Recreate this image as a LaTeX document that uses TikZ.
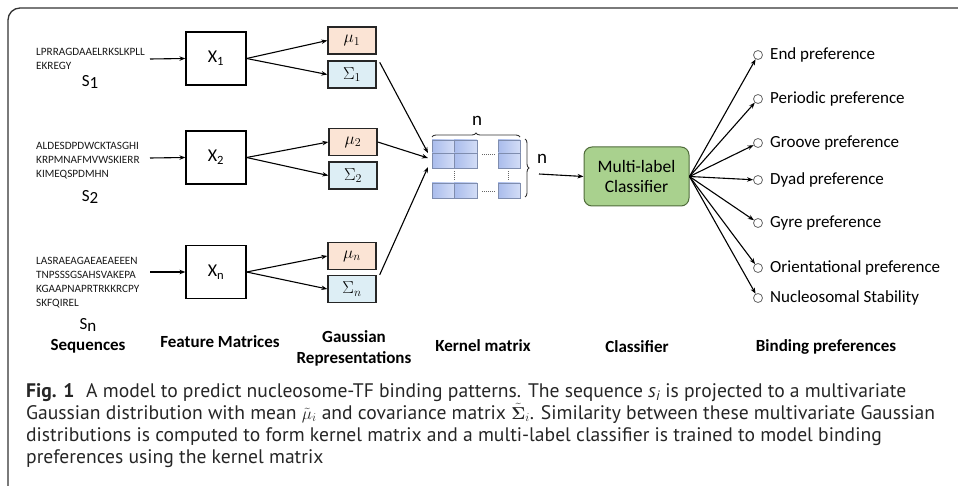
\documentclass[tikz,border=0pt]{standalone}
\usepackage{amsmath}
\usepackage{fontspec}
\setmainfont{Carlito}
\newfontfamily\capfont{PT Sans}
\usetikzlibrary{arrows.meta,decorations.pathreplacing,calc}
\definecolor{mufill}{HTML}{FBE4D5}
\definecolor{sigfill}{HTML}{DDEEF5}
\definecolor{clsfill}{HTML}{A9D18E}
\definecolor{clsdraw}{HTML}{4F6B3A}
\definecolor{cellL}{HTML}{A9BCEC}
\definecolor{cellR}{HTML}{D3DDF6}
\definecolor{celldraw}{HTML}{7F8DAE}
\definecolor{framec}{HTML}{333333}
\begin{document}
\begin{tikzpicture}[x=1pt,y=-1pt,
  arr/.style={-{Stealth[length=6pt,width=4.5pt]}, line width=1.1pt},
  xbox/.style={draw, line width=1.2pt, minimum width=60pt, minimum height=53pt, inner sep=0, font=\fontsize{18}{18}\selectfont},
  gbox/.style={draw=black!85, line width=1.4pt, minimum width=48pt, minimum height=27pt, inner sep=0, font=\fontsize{17}{17}\selectfont},
  mubox/.style={gbox, fill=mufill},
  sigbox/.style={gbox, fill=sigfill},
  seqtxt/.style={font=\fontsize{11.2}{14}\selectfont, text=black!90, align=left, anchor=north west, inner sep=0},
  slab/.style={font=\fontsize{17}{17}\selectfont, inner sep=0},
  blab/.style={font=\bfseries\fontsize{17}{21}\selectfont, align=center, inner sep=0},
  plab/.style={font=\fontsize{17}{17}\selectfont, anchor=west, inner sep=0},
  circ/.style={circle, draw=black!60, fill=white, minimum size=9pt, inner sep=0, line width=0.8pt},
  cell/.style={left color=cellL, right color=cellR, draw=celldraw, line width=0.7pt},
  capl/.style={font=\capfont\fontsize{19.6}{22}\selectfont, text=black!85, anchor=base west, inner sep=0}
]
\useasboundingbox (0,0) rectangle (958,486);
% frame
\draw[framec, line width=1.3pt, rounded corners=12pt] (958,8) -- (8,8) -- (8,486);

% sequences
\node[seqtxt] (t1) at (36,48) {LPRRAGDAAELRKSLKPLL\\EKREGY};
\node[slab] (s1) at (90,82) {S\raisebox{-2pt}{1}};
\node[seqtxt] (t2) at (36,142) {ALDESDPDWCKTASGHI\\KRPMNAFMVWSKIERR\\KIMEQSPDMHN};
\node[slab] (s2) at (90,197) {S\raisebox{-2pt}{2}};
\node[seqtxt] (t3) at (36,257) {LASRAEAGAEAEAEEEN\\TNPSSSGSAHSVAKEPA\\KGAAPNAPRTRKKRCPY\\SKFQIREL};
\node[slab] (s3) at (88,325) {S\raisebox{-2pt}{n}};

% feature matrices
\node[xbox] (x1) at (216,58.5) {X\textsubscript{1}};
\node[xbox] (x2) at (216,157.5) {X\textsubscript{2}};
\node[xbox] (x3) at (216,272) {X\textsubscript{n}};
\coordinate (a1) at (150,59);
\coordinate (a2) at (150,158);
\coordinate (a3) at (150,272);
\draw[arr] (a1) -- (x1.west);
\draw[arr] (a2) -- (x2.west);
\draw[arr] (a3) -- (x3.west);

% gaussian representations
\node[mubox] (m1) at (352,40.5) {$\mu_1$};
\node[sigbox] (g1) at (352,74.5) {$\Sigma_1$};
\node[mubox] (m2) at (353,142) {$\mu_2$};
\node[sigbox] (g2) at (353,175.5) {$\Sigma_2$};
\node[mubox] (m3) at (352,256) {$\mu_n$};
\node[sigbox] (g3) at (352,289) {$\Sigma_n$};
\foreach \i in {1,2,3}{
  \draw[arr] (x\i.east) -- (m\i.west);
  \draw[arr] (x\i.east) -- (g\i.west);
}

% kernel matrix
\node[minimum width=88pt, minimum height=58pt, inner sep=0] (kern) at (476,169) {};
\draw[cell] (432,140) rectangle (454,153);
\draw[cell] (454,140) rectangle (477,153);
\draw[cell] (432,153) rectangle (454,168);
\draw[cell] (454,153) rectangle (477,168);
\draw[cell] (498,140) rectangle (520,153);
\draw[cell] (498,153) rectangle (520,168);
\draw[cell] (432,183) rectangle (454,198);
\draw[cell] (454,183) rectangle (477,198);
\draw[cell] (498,183) rectangle (520,198);
\draw[black!60, line width=0.9pt, dash pattern=on 1pt off 1pt] (482,154) -- (496,154);
\draw[black!60, line width=0.9pt, dash pattern=on 1pt off 1pt] (482,191) -- (496,191);
\draw[black!60, line width=0.9pt, dash pattern=on 1pt off 1pt] (454,171) -- (454,181);
\draw[black!60, line width=0.9pt, dash pattern=on 1pt off 1pt] (508,171) -- (508,181);
\draw[black!80, line width=0.9pt, decorate, decoration={brace, amplitude=4pt}] (432,137) -- (520,137);
\draw[black!80, line width=0.9pt, decorate, decoration={brace, amplitude=4pt}] (525,139) -- (525,197);
\node[slab, font=\fontsize{19}{19}\selectfont] (ntop) at (477,121) {n};
\node[slab, font=\fontsize{19}{19}\selectfont] (nright) at (542,159) {n};
\coordinate (k1) at (428,153);
\coordinate (k2) at (428,158);
\coordinate (k3) at (428,167);
\draw[arr] ($(g1.north east)+(3,2)$) -- (k1);
\draw[arr] (m2.east) -- (k2);
\draw[arr] ($(g3.north east)+(3,0)$) -- (k3);

% classifier
\node[draw=clsdraw, fill=clsfill, rounded corners=8pt, line width=1pt, minimum width=105pt, minimum height=59pt, align=center, font=\fontsize{17.5}{20}\selectfont] (cls) at (636.5,176.5) {Multi-label\\Classifier};
\coordinate (kout) at (539,174);
\draw[arr] (kout) -- (cls.west);

% binding preferences
\foreach \n/\y/\t in {1/55/End preference, 2/99/Periodic preference, 3/143/Groove preference, 4/180/Dyad preference, 5/223/Gyre preference, 6/268/Orientational preference, 7/298/Nucleosomal Stability}{
  \node[circ] (c\n) at (758,\y) {};
  \node[plab] (p\n) at (770,\y) {\t};
  \draw[arr] (cls.east) -- (c\n);
}

% bottom labels
\node[blab] (lseq) at (88,346) {Sequences};
\node[blab] (lfeat) at (220,342) {Feature Matrices};
\node[blab] (lgau) at (354,348) {Gaussian\\Representations};
\node[blab] (lker) at (483,346) {Kernel matrix};
\node[blab] (lcls) at (637,347) {Classifier};
\node[blab] (lbind) at (826,347) {Binding preferences};

% caption
\node[capl] (cap1) at (26,397) {\textbf{Fig. 1}\hspace{0.6em}A model to predict nucleosome-TF binding patterns. The sequence {\itshape s\textsubscript{i}} is projected to a multivariate};
\node[capl] (cap2) at (26,419) {Gaussian distribution with mean \smash{{\fontsize{17.5}{17.5}\selectfont$\tilde{\mu}_i$}} and covariance matrix \smash{{\fontsize{17.5}{17.5}\selectfont$\tilde{\boldsymbol{\Sigma}}_i$}}. Similarity between these multivariate Gaussian};
\node[capl] (cap3) at (26,441) {distributions is computed to form kernel matrix and a multi-label classifier is trained to model binding};
\node[capl] (cap4) at (26,463) {preferences using the kernel matrix};
\end{tikzpicture}
\end{document}
